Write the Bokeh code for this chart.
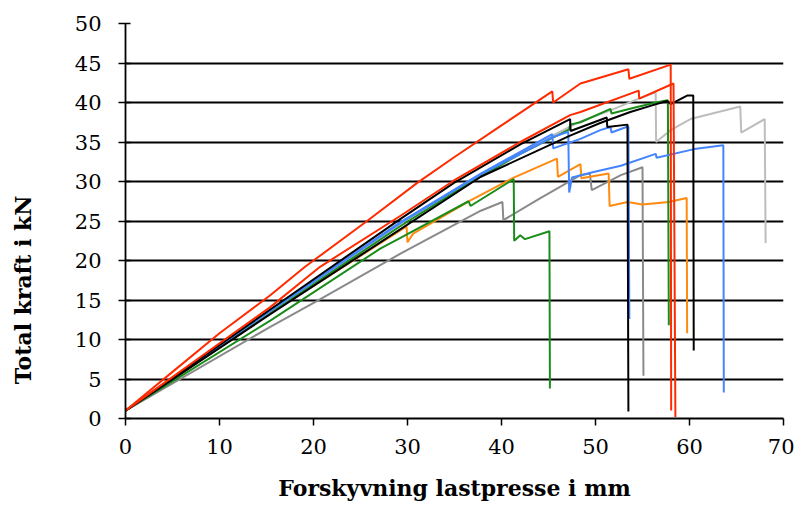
from bokeh.plotting import figure
from bokeh.models import Range1d, FixedTicker
from bokeh.embed import file_html
from bokeh.resources import INLINE

# ---- data (displacement in mm, force in kN) ----
red_a_x = [0, 5, 10, 15.4, 19.1, 25.7, 31, 35, 40, 45.4, 45.5, 48.4, 53.5, 53.6, 58.0, 58.05]
red_a_y = [1, 5.9, 10.8, 15.6, 19.2, 25, 29.8, 33.1, 37.1, 41.4, 40.0, 42.4, 44.2, 43.0, 44.8, 1.0]

red_b_x = [0, 15.4, 20.7, 29.3, 34.9, 42, 47.3, 48.4, 54.6, 54.65, 58.3, 58.5]
red_b_y = [1, 14.1, 19.2, 25.7, 30.1, 35.0, 38.4, 38.8, 41.5, 40.5, 42.4, 0.2]

black_a_x = [0, 15.4, 29.3, 34.9, 42, 47.3, 47.35, 51.2, 51.25, 53.4, 53.5]
black_a_y = [1, 13.8, 25.3, 29.8, 34.7, 37.9, 36.4, 38.1, 36.9, 37.2, 0.9]

black_b_x = [0, 15.4, 29.3, 37.8, 47.3, 50.5, 53.7, 56.2, 57.6, 58.0, 59.8, 60.4, 60.45]
black_b_y = [1, 13.2, 24.0, 30.6, 35.8, 37.4, 38.8, 39.7, 40.2, 39.8, 40.9, 40.9, 8.6]

blue_a_x = [0, 15.4, 29.3, 37.8, 45.4, 45.5, 48.4, 50.5, 51.6, 51.7, 53.5, 53.6]
blue_a_y = [1, 13.7, 24.9, 31.0, 36.0, 34.2, 35.4, 36.5, 36.9, 36.2, 37.0, 12.6]

blue_b_x = [0, 15.4, 29.3, 37.8, 45.4, 47.1, 47.2, 47.5, 49.8, 52.7, 56.4, 56.5, 60.5, 63.6, 63.65]
blue_b_y = [1, 13.6, 24.8, 30.9, 35.6, 36.3, 28.6, 30.5, 31.2, 32.0, 33.5, 33.0, 34.1, 34.6, 3.3]

lgray_x = [0, 15.4, 29.3, 37.8, 45.4, 48.4, 51.6, 54, 56.4, 56.45, 58, 60.1, 65.4, 65.5, 68.0, 68.1]
lgray_y = [1, 13.5, 24.7, 30.8, 35.8, 37.6, 39.0, 40.2, 41.3, 35.0, 36.5, 37.9, 39.5, 36.2, 37.9, 22.2]

green_a_x = [0, 15.4, 29.3, 36.7, 42, 45.9, 47.2, 47.3, 48.4, 51.6, 51.7, 54, 56.4, 57.7, 57.8]
green_a_y = [1, 13.3, 24.4, 29.9, 33.5, 35.8, 36.6, 37.2, 37.5, 39.2, 38.6, 39.3, 40.0, 40.3, 11.8]

green_b_x = [0, 15.4, 27.1, 29.3, 36.5, 36.7, 41.3, 41.35, 42.0, 42.5, 45.1, 45.15]
green_b_y = [1, 12.4, 21.5, 22.9, 27.5, 26.9, 30.3, 22.5, 23.2, 22.7, 23.7, 3.8]

orange_x = [0, 15.4, 29.9, 30.0, 30.6, 36.7, 41.3, 45.9, 46.0, 48.4, 48.5, 51.4, 51.5, 53.4, 55.0, 57.8, 59.7, 59.75]
orange_y = [1, 13.3, 24.3, 22.3, 23.4, 27.6, 30.5, 32.9, 30.6, 32.2, 30.4, 31.0, 26.9, 27.4, 27.1, 27.4, 27.9, 10.8]

dgray_x = [0, 15.4, 20.4, 29.3, 37.8, 40.1, 40.2, 44, 48.4, 49.4, 49.6, 52.7, 55.0, 55.1]
dgray_y = [1, 11.6, 14.9, 20.9, 26.3, 27.4, 25.1, 27.8, 30.8, 31.0, 28.9, 30.8, 31.8, 5.4]

x_ticks = [0, 10, 20, 30, 40, 50, 60, 70]
y_ticks = [0, 5, 10, 15, 20, 25, 30, 35, 40, 45, 50]

x_title = "Forskyvning lastpresse i mm"
y_title = "Total kraft i kN"

RED = "#ff2b00"
ORANGE = "#ff8a10"
GREEN = "#1a8c1a"
BLUE = "#4485ff"
LGRAY = "#bdbdbd"
DGRAY = "#8a8a8a"
BLACK = "#000000"

FONT = "DejaVu Serif"

p = figure(width=794, height=507, output_backend="svg", toolbar_location=None,
           x_range=Range1d(0, 70), y_range=Range1d(0, 50),
           min_border_left=125, min_border_right=11, min_border_top=23, min_border_bottom=89)
p.outline_line_color = None
p.background_fill_color = "white"
p.border_fill_color = "white"

p.xgrid.visible = False
p.ygrid.ticker = FixedTicker(ticks=y_ticks)
p.ygrid.grid_line_color = "black"
p.ygrid.grid_line_width = 1.8

p.xaxis.ticker = FixedTicker(ticks=x_ticks)
p.yaxis.ticker = FixedTicker(ticks=y_ticks)
for ax in (p.xaxis, p.yaxis):
    ax.axis_line_color = "black"
    ax.axis_line_width = 1.8
    ax.major_tick_line_color = "black"
    ax.major_tick_line_width = 1.5
    ax.minor_tick_line_color = None
    ax.major_label_text_font = FONT
    ax.major_label_text_font_size = "21px"
    ax.major_label_text_color = "black"
    ax.axis_label_text_font = FONT
    ax.axis_label_text_font_style = "bold"
    ax.axis_label_text_font_size = "22px"
    ax.axis_label_text_color = "black"

p.xaxis.major_tick_out = 7
p.xaxis.major_tick_in = 0
p.xaxis.major_label_standoff = 13
p.xaxis.axis_label = x_title
p.xaxis.axis_label_standoff = 18

p.yaxis.major_tick_out = 7
p.yaxis.major_tick_in = 5
p.yaxis.major_label_standoff = 17
# trailing no-break spaces push the (upward-reading) title below the frame centre, as in the original
p.yaxis.axis_label = y_title + "\u00a0" * 18
p.yaxis.axis_label_standoff = 36

series = [
    (lgray_x, lgray_y, LGRAY),
    (dgray_x, dgray_y, DGRAY),
    (orange_x, orange_y, ORANGE),
    (green_b_x, green_b_y, GREEN),
    (green_a_x, green_a_y, GREEN),
    (blue_b_x, blue_b_y, BLUE),
    (blue_a_x, blue_a_y, BLUE),
    (black_b_x, black_b_y, BLACK),
    (black_a_x, black_a_y, BLACK),
    (red_b_x, red_b_y, RED),
    (red_a_x, red_a_y, RED),
]
for xs, ys, c in series:
    p.line(xs, ys, line_color=c, line_width=2)

open("out.html", "w").write(file_html(p, INLINE))
